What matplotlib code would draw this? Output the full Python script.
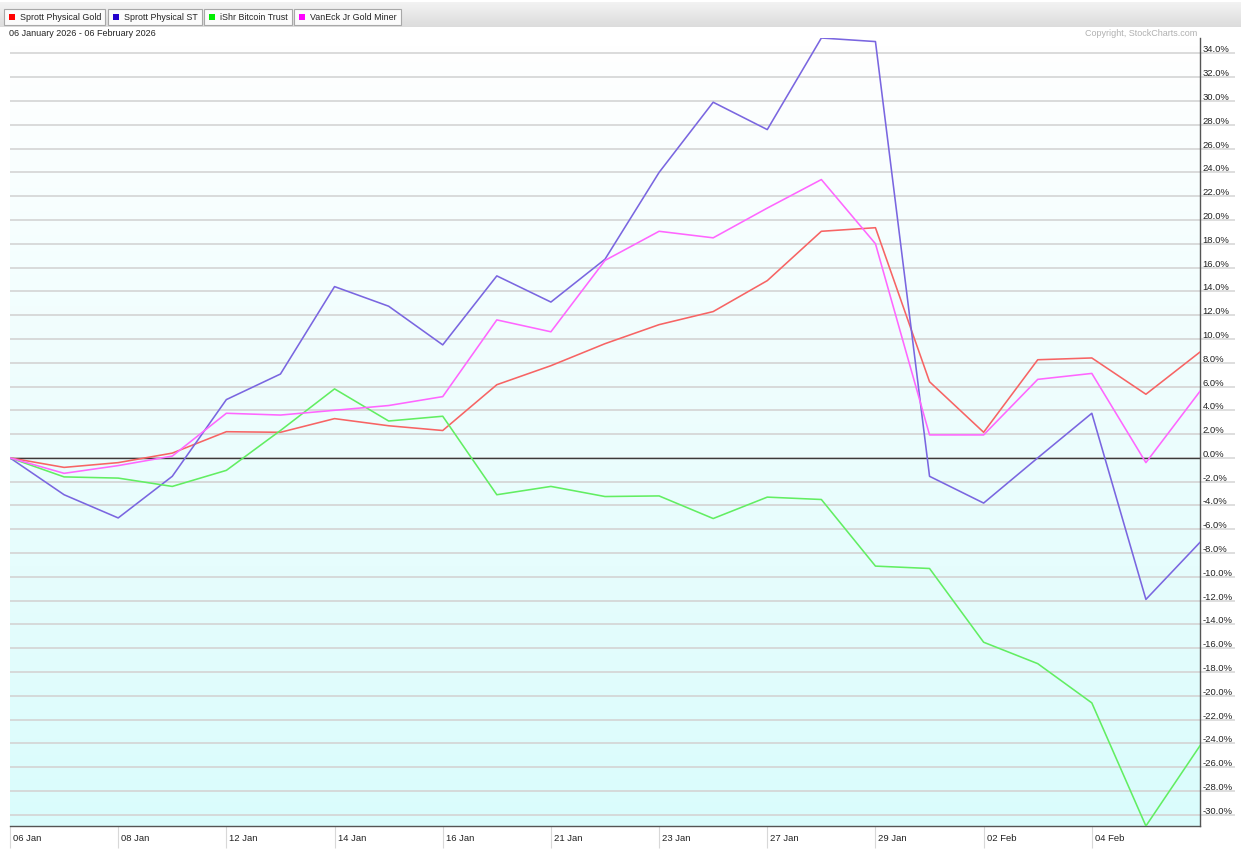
import numpy as np
import matplotlib
matplotlib.use("Agg")
import matplotlib.pyplot as plt
import matplotlib.transforms as mtransforms
from matplotlib.patches import Rectangle

plt.rcParams["font.family"] = ["Liberation Sans", "DejaVu Sans"]

# trading days 06 Jan 2026 - 06 Feb 2026
dates = ["06 Jan", "07 Jan", "08 Jan", "09 Jan", "12 Jan", "13 Jan", "14 Jan",
         "15 Jan", "16 Jan", "20 Jan", "21 Jan", "22 Jan", "23 Jan", "26 Jan",
         "27 Jan", "28 Jan", "29 Jan", "30 Jan", "02 Feb", "03 Feb", "04 Feb",
         "05 Feb", "06 Feb"]
tick_dates = ["06 Jan", "08 Jan", "12 Jan", "14 Jan", "16 Jan", "21 Jan",
              "23 Jan", "27 Jan", "29 Jan", "02 Feb", "04 Feb"]

# percent change since 06 Jan
gold = [0, -0.8, -0.4, 0.4, 2.2, 2.15, 3.3, 2.7, 2.3, 6.15, 7.75, 9.6, 11.2,
        12.3, 14.9, 19.05, 19.35, 6.4, 2.15, 8.25, 8.4, 5.35, 8.9]
silver = [0, -3.1, -5.05, -1.55, 4.9, 7.05, 14.4, 12.75, 9.5, 15.3, 13.1, 16.7,
          24.0, 29.9, 27.6, 35.3, 35.0, -1.55, -3.8, 0.0, 3.75, -11.9, -7.1]
bitcoin = [0, -1.6, -1.7, -2.4, -1.05, 2.3, 5.8, 3.1, 3.5, -3.1, -2.4, -3.25,
           -3.2, -5.1, -3.3, -3.5, -9.1, -9.3, -15.5, -17.3, -20.6, -30.95, -24.2]
juniors = [0, -1.3, -0.65, 0.15, 3.75, 3.6, 4.0, 4.4, 5.15, 11.6, 10.6, 16.6,
           19.05, 18.5, 21.0, 23.4, 18.0, 1.93, 1.93, 6.6, 7.1, -0.4, 5.6]

names = ["Sprott Physical Gold", "Sprott Physical ST", "iShr Bitcoin Trust",
         "VanEck Jr Gold Miner"]
series = [gold, silver, bitcoin, juniors]
line_colors = ["#f76464", "#7a66e0", "#62ee62", "#ff66ff"]
swatch_colors = ["#ff0000", "#2200cc", "#00ee00", "#ff00ff"]

W, H = 1241, 854
fig = plt.figure(figsize=(W / 100, H / 100), dpi=100)
fig.patch.set_facecolor("white")

# header bar
hax = fig.add_axes([0, 1 - 28 / H, 1, 25 / H])
hgrad = np.linspace(0, 1, 50).reshape(-1, 1)
hax.imshow(hgrad, cmap=matplotlib.colors.LinearSegmentedColormap.from_list(
    "h", ["#f3f3f3", "#dcdcdc"]), aspect="auto", extent=[0, 1, 0, 1])
hax.set_axis_off()

renderer = fig.canvas.get_renderer()
x = 4
for name, c in zip(names, swatch_colors):
    t = fig.text((x + 16) / W, 1 - 17.5 / H, name, fontsize=6.4, va="center",
                 ha="left", color="#222222", zorder=5)
    w = t.get_window_extent(renderer).width
    bw = 16 + w + 4
    fig.add_artist(Rectangle((x / W, 1 - 25.5 / H), bw / W, 15.5 / H,
                             transform=fig.transFigure, facecolor="#fbfbfb",
                             edgecolor="#a8a8a8", lw=0.8, zorder=2))
    fig.add_artist(Rectangle(((x + 5) / W, 1 - 20.5 / H), 6 / W, 6 / H,
                             transform=fig.transFigure, facecolor=c,
                             edgecolor="none", zorder=3))
    x += bw + 2.5

fig.text(9 / W, 1 - 33 / H, "06 January 2026 - 06 February 2026", fontsize=6.5,
         va="center", ha="left", color="#222222")
fig.text(1197 / W, 1 - 34 / H, "Copyright, StockCharts.com", fontsize=6.5,
         va="center", ha="right", color="#b0b0b0")

# main chart
ax = fig.add_axes([10 / W, 1 - 827 / H, 1190 / W, 788 / H])
xs = np.arange(len(dates))
ylo, yhi = -30.95, 35.3
ax.set_xlim(0, len(dates) - 1)
ax.set_ylim(ylo, yhi)

grad = np.linspace(1, 0, 100).reshape(-1, 1)
ax.imshow(grad, cmap=matplotlib.colors.LinearSegmentedColormap.from_list(
    "bg", ["#dafcfc", "#ffffff"]), aspect="auto",
    extent=[0, len(dates) - 1, ylo, yhi], zorder=0)

yt = np.arange(-30, 35, 2)
ax.set_yticks(yt)
ax.set_yticklabels([f"{v:.1f}%" for v in yt])
ax.yaxis.tick_right()
ax.grid(axis="y", color="#d4d4d4", lw=1.2, zorder=1)
ax.axhline(0, color="#3a3a3a", lw=1.0, zorder=2)

for vals, c in zip(series, line_colors):
    ax.plot(xs, vals, color=c, lw=1.15, zorder=3)

ax.tick_params(axis="y", length=25, width=1.1, color="#d4d4d4", pad=-23,
               labelsize=6.8, labelcolor="#222222")
for lab in ax.get_yticklabels():
    lab.set_va("bottom")

ax.set_xticks([dates.index(d) for d in tick_dates])
ax.set_xticklabels(tick_dates)
ax.tick_params(axis="x", length=16, width=0.8, color="#d8d8d8", pad=-11,
               labelsize=6.8, labelcolor="#222222")
off = mtransforms.ScaledTranslation(3 / 100, 0, fig.dpi_scale_trans)
for lab in ax.get_xticklabels():
    lab.set_ha("left")
    lab.set_transform(lab.get_transform() + off)

for s in ["left", "top"]:
    ax.spines[s].set_visible(False)
for s in ["right", "bottom"]:
    ax.spines[s].set_color("#555555")
    ax.spines[s].set_linewidth(1.0)

fig.savefig("out.png", dpi=100)
